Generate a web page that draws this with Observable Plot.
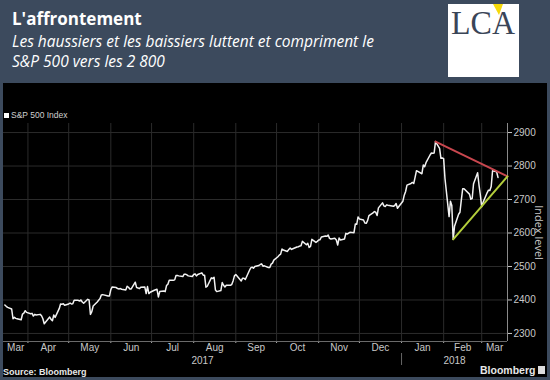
<!DOCTYPE html>
<html><head><meta charset="utf-8">
<script src="https://cdn.jsdelivr.net/npm/d3@7"></script>
<script src="https://cdn.jsdelivr.net/npm/@observablehq/plot@0.6"></script>
<style>
html,body{margin:0;padding:0;}
body{width:550px;height:380px;background:#3c4a5d;position:relative;overflow:hidden;font-family:"Open Sans",sans-serif;}
.abs{position:absolute;white-space:nowrap;line-height:1;}
#title{left:12px;top:10px;color:#fff;font-weight:700;font-size:17px;}
#subtitle{left:12px;top:31px;color:#fff;font-style:italic;font-size:15.5px;line-height:20px;}
#panel{position:absolute;left:3px;top:83px;width:544px;height:294px;background:#000;}
#legend{left:4px;top:111px;color:#cfcfcf;font-family:"Liberation Sans",Arial,sans-serif;font-size:8.5px;}
#legend span.sw{display:inline-block;width:5px;height:5px;background:#fff;margin-right:2px;vertical-align:0px;}
#source{left:3px;top:368px;color:#e8e8e8;font-family:"Liberation Sans",Arial,sans-serif;font-weight:700;font-size:9px;}
#brand{left:480px;top:365px;color:#e8e8e8;font-family:"Liberation Sans",Arial,sans-serif;font-weight:700;font-size:10.5px;}
#brandicon{position:absolute;left:538px;top:366px;width:7px;height:8px;background:#ddd;}
#logo{position:absolute;left:448px;top:4px;}
</style></head>
<body>
<div id="title" class="abs">L'affrontement</div>
<div id="subtitle" class="abs">Les haussiers et les baissiers luttent et compriment le<br>S&amp;P 500 vers les 2 800</div>
<svg id="logo" width="71" height="73" viewBox="0 0 71 73">
  <rect x="0" y="0" width="71" height="73" fill="#fff"/>
  <polygon points="45,0 55,0 51,11" fill="#f5d90a"/>
  <text x="3" y="29.5" font-family="Liberation Serif, serif" font-size="33" fill="#3a4557" textLength="64" lengthAdjust="spacingAndGlyphs">LCA</text>
</svg>
<div id="panel"></div>
<div id="legend" class="abs"><span class="sw"></span>S&amp;P 500 Index</div>
<div id="source" class="abs">Source: Bloomberg</div>
<div id="brand" class="abs">Bloomberg</div>
<div id="brandicon"></div>
<script>
// ---- data ----
const startDate = "2017-03-15";           // first close shown
const domainStart = "2017-03-14";
const domainEnd = "2018-03-20";
const holidays = ["2017-04-14","2017-05-29","2017-07-04","2017-09-04","2017-11-23","2017-12-25","2018-01-01","2018-01-15","2018-02-19"];
const sp500Close = [
  // Mar 2017
  2385,2381,2378,2373,2344,2348,2345,2344,2341,2358,2361,2368,2363,
  // Apr
  2359,2360,2352,2357,2355,2357,2353,2344,2329,2349,2342,2338,2355,2348,2374,2388,2387,2389,2384,
  // May
  2388,2391,2388,2389,2399,2399,2397,2400,2394,2390,2402,2400,2357,2365,2382,2394,2399,2404,2415,2416,2412,2412,
  // Jun
  2431,2439,2437,2434,2433,2434,2432,2430,2441,2438,2433,2433,2453,2437,2436,2434,2438,2439,2419,2440,2419,2423,
  // Jul
  2429,2432,2409,2425,2427,2425,2443,2447,2459,2459,2460,2473,2473,2472,2470,2477,2477,2475,2472,2470,
  // Aug
  2476,2478,2472,2476,2481,2474,2474,2438,2441,2466,2464,2468,2430,2425,2428,2452,2444,2439,2444,2444,2446,2457,2472,
  // Sep
  2476,2457,2465,2465,2461,2488,2496,2498,2495,2500,2503,2506,2508,2501,2502,2497,2497,2507,2510,2519,
  // Oct
  2529,2534,2537,2552,2549,2545,2551,2555,2551,2553,2558,2559,2561,2562,2575,2565,2569,2557,2560,2581,2572,2575,
  // Nov
  2579,2580,2588,2591,2590,2594,2584,2582,2584,2579,2564,2585,2579,2582,2599,2597,2602,2601,2627,2626,2648,
  // Dec
  2642,2639,2630,2629,2637,2652,2660,2664,2662,2652,2675,2690,2681,2679,2684,2683,2680,2682,2688,2674,
  // Jan 2018
  2695,2713,2724,2743,2748,2751,2748,2767,2786,2777,2803,2798,2810,2833,2839,2838,2839,2873,2853,2823,2824,
  // Feb
  2822,2762,2649,2695,2682,2581,2620,2656,2662,2698,2732,2732,2716,2701,2703,2747,2780,2744,2714,
  // Mar
  2678,2691,2720,2728,2727,2739,2786,2783,2766
];
const yTicks = [2300,2400,2500,2600,2700,2800,2900];
const yDomain = [2276,2927];
const resistanceDates = ["2018-01-26","2018-03-20"];
const resistanceValues = [2873,2769];
const supportDates = ["2018-02-08","2018-03-20"];
const supportValues = [2581,2769];
const yAxisLabel = "Index level";

// ---- build tables ----
const parse = s => new Date(s + "T00:00:00Z");
const hol = new Set(holidays);
const dates = [];
for (let d = parse(startDate); dates.length < sp500Close.length; d = new Date(d.getTime() + 864e5)) {
  const dow = d.getUTCDay();
  if (dow !== 0 && dow !== 6 && !hol.has(d.toISOString().slice(0,10))) dates.push(d);
}
const series = dates.map((date,i) => ({date, value: sp500Close[i]}));
const resistance = resistanceDates.map((s,i) => ({date: parse(s), value: resistanceValues[i]}));
const support = supportDates.map((s,i) => ({date: parse(s), value: supportValues[i]}));

const x0 = parse(domainStart), x1 = parse(domainEnd);
const monthStarts = d3.utcMonth.range(d3.utcMonth.ceil(x0), x1);
const mid = (a,b) => new Date((a.getTime()+b.getTime())/2);
const monthMids = d3.utcMonth.range(d3.utcMonth.floor(x0), x1).map(m => {
  const a = m < x0 ? x0 : m, n = d3.utcMonth.offset(m,1), b = n > x1 ? x1 : n;
  return mid(a,b);
});
const yearMids = d3.utcYear.range(d3.utcYear.floor(x0), x1).map(y => {
  const a = y < x0 ? x0 : y, n = d3.utcYear.offset(y,1), b = n > x1 ? x1 : n;
  return {date: mid(a,b), label: String(y.getUTCFullYear())};
});
const yearBreaks = d3.utcYear.range(d3.utcYear.ceil(x0), x1);

const W = 544, H = 294, mT = 40, mB = 36, mR = 40;
const frameH = H - mT - mB;
const grid = "#2b2b2b";

const chart = Plot.plot({
  width: W, height: H,
  marginLeft: 0, marginRight: mR, marginTop: mT, marginBottom: mB,
  style: {background: "#000", color: "#c8c8c8", fontSize: "10px", fontFamily: "'Liberation Sans', Arial, sans-serif"},
  x: {type: "utc", domain: [x0, x1]},
  y: {domain: yDomain},
  marks: [
    Plot.gridY({ticks: yTicks, stroke: grid, strokeOpacity: 1}),
    Plot.gridX({ticks: monthStarts, stroke: grid, strokeOpacity: 1}),
    Plot.axisY({ticks: yTicks, anchor: "right", tickSize: 4, tickPadding: 2, label: null, tickFormat: d => String(d)}),
    Plot.axisX({ticks: monthStarts, tickSize: 2, tickFormat: () => "", label: null, stroke: "#aaa"}),
    Plot.axisX({ticks: monthMids, tickSize: 0, tickPadding: 2.5, tickFormat: d3.utcFormat("%b"), label: null}),
    Plot.ruleY([yDomain[0]], {stroke: "#6a6a6a"}),
    Plot.ruleX([x1], {stroke: "#8a8a8a"}),
    Plot.ruleX(yearBreaks, {stroke: "#666", insetTop: frameH + 12, insetBottom: -24}),
    Plot.text(yearMids, {x: "date", text: "label", frameAnchor: "bottom", lineAnchor: "middle", textAnchor: "middle", dy: 19}),
    Plot.text([yAxisLabel], {frameAnchor: "right", textAnchor: "middle", lineAnchor: "middle", rotate: 90, dx: 31, fontSize: 11, fontFamily: "'Open Sans', sans-serif"}),
    Plot.line(series, {x: "date", y: "value", stroke: "#f2f2f2", strokeWidth: 1.5}),
    Plot.line(resistance, {x: "date", y: "value", stroke: "#c9474f", strokeWidth: 2}),
    Plot.line(support, {x: "date", y: "value", stroke: "#b3cd3b", strokeWidth: 2})
  ]
});
document.getElementById("panel").appendChild(chart);
</script>
</body></html>
